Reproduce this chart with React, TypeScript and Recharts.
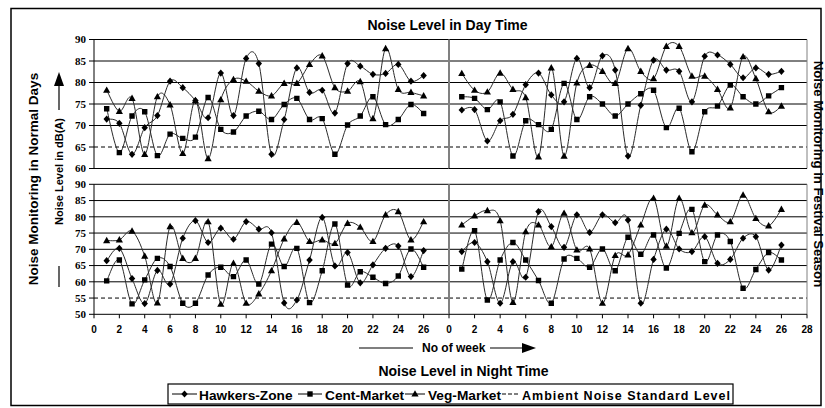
import React from 'react';
import { LineChart, Line, XAxis, YAxis, ReferenceLine } from 'recharts';

const weeks = [1, 2, 3, 4, 5, 6, 7, 8, 9, 10, 11, 12, 13, 14, 15, 16, 17, 18, 19, 20, 21, 22, 23, 24, 25, 26];

// Day time, normal days
const dayNormalHawkers = [71.5, 70.5, 63.3, 69.5, 72.3, 80.3, 78.8, 75.8, 71.8, 82.2, 72.3, 85.6, 84.4, 63.3, 71.4, 83.4, 77.7, 78.2, 72.9, 84.4, 83.8, 81.9, 82.1, 84.2, 80.3, 81.6];
const dayNormalCent = [73.9, 63.7, 72.2, 73.2, 63.0, 68.0, 67.0, 67.3, 76.5, 69.1, 68.5, 72.2, 73.3, 71.4, 74.9, 76.3, 71.4, 71.6, 63.3, 70.1, 72.2, 76.7, 70.2, 71.4, 74.9, 72.8];
const dayNormalVeg = [78.2, 73.3, 76.3, 63.3, 76.7, 74.8, 63.5, 75.8, 62.3, 76.0, 80.7, 80.3, 78.0, 76.9, 79.8, 79.8, 84.2, 86.2, 78.8, 78.0, 80.2, 71.6, 87.9, 78.4, 77.7, 76.9];

// Day time, festival season
const dayFestHawkers = [73.6, 73.7, 66.4, 71.1, 72.6, 79.5, 82.2, 77.1, 75.5, 85.6, 78.8, 86.2, 82.9, 62.9, 74.7, 85.2, 82.9, 82.6, 75.5, 86.1, 86.4, 84.2, 81.1, 83.4, 81.9, 82.6];
const dayFestCent = [76.7, 76.3, 73.7, 75.5, 62.9, 71.1, 70.2, 69.1, 79.8, 71.4, 76.7, 75.0, 72.2, 75.0, 77.4, 78.2, 69.5, 74.0, 63.9, 73.2, 74.5, 79.4, 76.7, 75.0, 76.9, 78.8];
const dayFestVeg = [82.1, 78.2, 77.8, 82.2, 78.4, 76.5, 62.7, 83.4, 62.9, 79.9, 84.0, 82.6, 79.8, 87.9, 82.6, 80.9, 88.4, 88.4, 81.5, 81.5, 78.4, 74.1, 86.0, 80.9, 73.2, 74.5];

// Night time, normal days
const nightNormalHawkers = [66.5, 70.3, 61.0, 53.3, 63.5, 59.3, 73.4, 78.8, 72.1, 76.5, 73.1, 78.5, 76.2, 75.1, 53.5, 54.4, 66.7, 79.8, 64.9, 69.0, 59.7, 65.2, 70.3, 71.0, 61.6, 69.6];
const nightNormalCent = [60.3, 66.7, 53.2, 60.6, 67.2, 64.7, 53.4, 53.4, 62.1, 64.5, 61.6, 66.7, 59.3, 71.6, 64.7, 70.3, 53.6, 63.4, 77.8, 59.0, 63.1, 61.4, 59.5, 61.8, 70.1, 64.5];
const nightNormalVeg = [72.7, 72.9, 75.6, 67.9, 53.5, 77.0, 67.2, 67.2, 78.5, 53.1, 65.7, 53.4, 56.3, 63.4, 73.2, 78.3, 72.4, 72.9, 71.8, 78.0, 76.8, 72.4, 80.6, 81.6, 72.9, 78.5];

// Night time, festival season
const nightFestHawkers = [69.3, 72.1, 66.2, 53.4, 66.2, 61.4, 81.6, 77.0, 70.6, 80.6, 75.2, 80.6, 78.2, 79.0, 53.4, 66.9, 76.2, 70.1, 69.3, 73.9, 65.7, 66.9, 73.4, 73.9, 63.6, 71.3];
const nightFestCent = [63.9, 75.7, 54.4, 66.7, 72.1, 66.7, 60.4, 53.4, 67.0, 67.2, 64.5, 70.1, 63.4, 73.7, 68.5, 74.4, 64.2, 74.9, 82.3, 66.2, 74.4, 72.4, 58.0, 63.8, 69.0, 66.7];
const nightFestVeg = [77.5, 80.3, 81.9, 78.8, 53.7, 75.4, 77.5, 70.8, 81.1, 69.8, 70.1, 53.4, 68.1, 68.3, 77.5, 85.7, 71.0, 85.7, 75.1, 83.6, 80.6, 78.5, 86.7, 79.5, 77.2, 82.3];

const dayStandard = 65;
const nightStandard = 55;

const dayTicks = [60, 65, 70, 75, 80, 85, 90];
const nightTicks = [50, 55, 60, 65, 70, 75, 80, 85, 90];
const dayGrid = [70, 75, 80, 85, 90];
const nightGrid = [60, 65, 70, 75, 80, 85, 90];
const leftWeekTicks = [0, 2, 4, 6, 8, 10, 12, 14, 16, 18, 20, 22, 24, 26];
const rightWeekTicks = [0, 2, 4, 6, 8, 10, 12, 14, 16, 18, 20, 22, 24, 26, 28];

const seriesNames = ['Hawkers-Zone', 'Cent-Market', 'Veg-Market'];
const standardName = 'Ambient Noise Standard Level';

const buildRows = (h: number[], c: number[], v: number[]) =>
  weeks.map((w, i) => ({ week: w, hawkers: h[i], cent: c[i], veg: v[i] }));

// Excel-like smoothed line (Catmull-Rom through every point)
function excelCurve(context: any) {
  let pts: number[][] = [];
  return {
    areaStart() {},
    areaEnd() {},
    lineStart() {
      pts = [];
    },
    point(x: number, y: number) {
      pts.push([+x, +y]);
    },
    lineEnd() {
      const n = pts.length;
      if (!n) return;
      context.moveTo(pts[0][0], pts[0][1]);
      for (let i = 0; i < n - 1; i++) {
        const p0 = pts[i - 1] || pts[i];
        const p1 = pts[i];
        const p2 = pts[i + 1];
        const p3 = pts[i + 2] || p2;
        context.bezierCurveTo(
          p1[0] + (p2[0] - p0[0]) / 6,
          p1[1] + (p2[1] - p0[1]) / 6,
          p2[0] - (p3[0] - p1[0]) / 6,
          p2[1] - (p3[1] - p1[1]) / 6,
          p2[0],
          p2[1]
        );
      }
    },
  };
}

const diamondPath = (cx: number, cy: number) => `M${cx},${cy - 3.6}L${cx + 3.2},${cy}L${cx},${cy + 3.6}L${cx - 3.2},${cy}Z`;
const squarePath = (cx: number, cy: number) => `M${cx - 2.7},${cy - 2.7}h5.4v5.4h-5.4Z`;
const trianglePath = (cx: number, cy: number) => `M${cx},${cy - 3.8}L${cx + 3.6},${cy + 2.6}L${cx - 3.6},${cy + 2.6}Z`;

const makeDot = (shape: (x: number, y: number) => string, tag: string) => (p: any) => {
  const { cx, cy, index } = p;
  if (cx == null || cy == null) return <g key={`${tag}-${index}`} />;
  return <path key={`${tag}-${index}`} d={shape(cx, cy)} fill="#000" stroke="none" />;
};

const W = 825;
const H = 408;
const LINE = '#2a2a2a';
const tickFont = { fontFamily: '"Liberation Sans", Arial, sans-serif', fontWeight: 700, fontSize: 10, fill: '#000' };

type PanelProps = {
  rows: any[];
  x0: number;
  x1: number;
  y0: number;
  y1: number;
  left: boolean;
  night: boolean;
  showXLabels: boolean;
};

function Panel({ rows, x0, x1, y0, y1, left, night, showXLabels }: PanelProps) {
  const xh = 24;
  const yDomain = night ? [50, 90] : [60, 90];
  const yTicks = night ? nightTicks : dayTicks;
  const grid = night ? nightGrid : dayGrid;
  const standard = night ? nightStandard : dayStandard;
  const margin = {
    top: y0,
    right: W - x1,
    bottom: H - y1 - xh,
    left: left ? 0 : x0,
  };
  return (
    <div style={{ position: 'absolute', left: 0, top: 0 }}>
      <LineChart width={W} height={H} data={rows} margin={margin}>
        <XAxis
          dataKey="week"
          type="number"
          domain={[0, 28]}
          ticks={left ? leftWeekTicks : rightWeekTicks}
          interval={0}
          allowDataOverflow
          height={xh}
          tickSize={4}
          tickMargin={8}
          axisLine={{ stroke: '#000', strokeWidth: 1 }}
          tickLine={{ stroke: '#000', strokeWidth: 1 }}
          tick={showXLabels ? tickFont : false}
        />
        <YAxis
          type="number"
          domain={yDomain}
          ticks={yTicks}
          interval={0}
          allowDataOverflow
          hide={!left}
          width={x0}
          tickSize={5}
          tickMargin={3}
          axisLine={{ stroke: '#000', strokeWidth: 1 }}
          tickLine={{ stroke: '#000', strokeWidth: 1 }}
          tick={{ ...tickFont, fontFamily: '"Liberation Serif", "Times New Roman", serif', fontSize: 11 }}
        />
        {grid.map((g) => (
          <ReferenceLine key={`g${g}`} y={g} stroke="#000" strokeWidth={1} ifOverflow="extendDomain" />
        ))}
        <ReferenceLine y={standard} stroke="#000" strokeWidth={1} strokeDasharray="4 3" />
        {!left && <ReferenceLine x={0} stroke="#808080" strokeWidth={2} />}
        {!left && <ReferenceLine x={28} stroke="#808080" strokeWidth={1} />}
        <Line
          dataKey="hawkers"
          name={seriesNames[0]}
          type={excelCurve as any}
          stroke={LINE}
          strokeWidth={1}
          dot={makeDot(diamondPath, 'h')}
          activeDot={false}
          isAnimationActive={false}
        />
        <Line
          dataKey="cent"
          name={seriesNames[1]}
          type={excelCurve as any}
          stroke={LINE}
          strokeWidth={1}
          dot={makeDot(squarePath, 'c')}
          activeDot={false}
          isAnimationActive={false}
        />
        <Line
          dataKey="veg"
          name={seriesNames[2]}
          type={excelCurve as any}
          stroke={LINE}
          strokeWidth={1}
          dot={makeDot(trianglePath, 'v')}
          activeDot={false}
          isAnimationActive={false}
        />
      </LineChart>
    </div>
  );
}

const sans = '"Liberation Sans", Arial, sans-serif';

function Overlay() {
  return (
    <svg width={W} height={H} style={{ position: 'absolute', left: 0, top: 0, pointerEvents: 'none' }}>
      <rect x={11} y={8.5} width={810} height={397} fill="none" stroke="#000" strokeWidth={1.5} />
      <text x={447.5} y={30} textAnchor="middle" fontFamily={sans} fontWeight={700} fontSize={14}>
        Noise Level in Day Time
      </text>
      <text x={463.5} y={376} textAnchor="middle" fontFamily={sans} fontWeight={700} fontSize={14}>
        Noise Level in Night Time
      </text>
      {/* x axis caption */}
      <line x1={359} y1={348} x2={413} y2={348} stroke="#000" strokeWidth={1.2} />
      <text x={422} y={352} fontFamily={sans} fontWeight={700} fontSize={12}>
        No of week
      </text>
      <line x1={490} y1={348} x2={524} y2={348} stroke="#000" strokeWidth={1.2} />
      <path d="M522,343L536,348L522,353Z" fill="#000" />
      {/* outer side captions */}
      <text
        transform="translate(38,179) rotate(-90)"
        textAnchor="middle"
        fontFamily={sans}
        fontWeight={700}
        fontSize={13.5}
      >
        Noise Monitoring in Normal Days
      </text>
      <text
        transform="translate(814,174) rotate(90)"
        textAnchor="middle"
        fontFamily={sans}
        fontWeight={700}
        fontSize={13.2}
      >
        Noise Monitoring in Festival Season
      </text>
      {/* inner y caption */}
      <text
        transform="translate(63,171.5) rotate(-90)"
        textAnchor="middle"
        fontFamily={sans}
        fontWeight={700}
        fontSize={11}
      >
        Noise Level in dB(A)
      </text>
      <line x1={59} y1={287} x2={59} y2={266} stroke="#000" strokeWidth={1.2} />
      <line x1={59} y1={110} x2={59} y2={84} stroke="#000" strokeWidth={1.2} />
      <path d="M54,86L59,72L64,86Z" fill="#000" />
      {/* legend */}
      <rect x={168} y={384} width={565} height={20} fill="#fff" stroke="#000" strokeWidth={1.2} />
      <line x1={172} y1={394} x2={197} y2={394} stroke="#000" strokeWidth={1} />
      <path d={diamondPath(184.5, 394)} fill="#000" />
      <text x={199} y={399.5} fontFamily={sans} fontWeight={700} fontSize={13.7}>
        {seriesNames[0]}
      </text>
      <line x1={298} y1={394} x2={322} y2={394} stroke="#000" strokeWidth={1} />
      <path d={squarePath(310, 394)} fill="#000" />
      <text x={325} y={399.5} fontFamily={sans} fontWeight={700} fontSize={13.7}>
        {seriesNames[1]}
      </text>
      <line x1={405} y1={394} x2={425} y2={394} stroke="#000" strokeWidth={1} />
      <path d={trianglePath(415, 394)} fill="#000" />
      <text x={428} y={399.5} fontFamily={sans} fontWeight={700} fontSize={13.7}>
        {seriesNames[2]}
      </text>
      <line x1={502} y1={394} x2={519} y2={394} stroke="#000" strokeWidth={1.2} strokeDasharray="4 2" />
      <text x={522} y={399.5} fontFamily={sans} fontWeight={700} fontSize={12.5} textLength={208} lengthAdjust="spacing">
        {standardName}
      </text>
    </svg>
  );
}

export default function App() {
  const dn = buildRows(dayNormalHawkers, dayNormalCent, dayNormalVeg);
  const df = buildRows(dayFestHawkers, dayFestCent, dayFestVeg);
  const nn = buildRows(nightNormalHawkers, nightNormalCent, nightNormalVeg);
  const nf = buildRows(nightFestHawkers, nightFestCent, nightFestVeg);
  return (
    <div style={{ position: 'absolute', left: 0, top: 0, width: W, height: H, background: '#fff', overflow: 'hidden' }}>
      <Panel rows={dn} x0={94} x1={449} y0={39.5} y1={168.5} left night={false} showXLabels={false} />
      <Panel rows={df} x0={449} x1={807} y0={39.5} y1={168.5} left={false} night={false} showXLabels={false} />
      <Panel rows={nn} x0={94} x1={449} y0={184.3} y1={314.3} left night showXLabels />
      <Panel rows={nf} x0={449} x1={807} y0={184.3} y1={314.3} left={false} night showXLabels />
      <Overlay />
    </div>
  );
}
